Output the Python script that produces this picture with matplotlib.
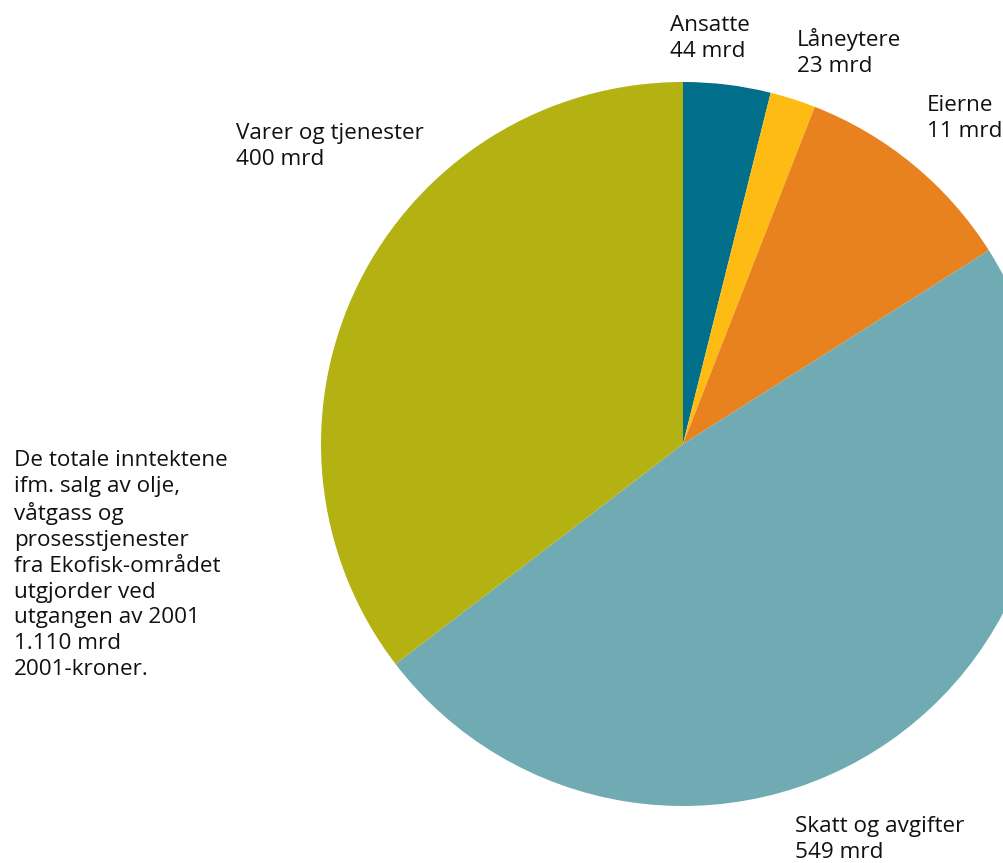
import matplotlib
matplotlib.use('Agg')
import matplotlib.pyplot as plt

plt.rcParams['font.family'] = ['Open Sans', 'DejaVu Sans']

# slices clockwise from 12 o'clock
categories = ["Ansatte", "Låneytere", "Eierne", "Skatt og avgifter", "Varer og tjenester"]
values = [44, 23, 114, 549, 400]
value_labels = ["44 mrd", "23 mrd", "11 mrd", "549 mrd", "400 mrd"]
colors = ["#016e8a", "#fdbb14", "#e8821e", "#70aab2", "#b4b212"]

total_text = ("De totale inntektene\nifm. salg av olje,\nvåtgass og\nprosesstjenester\n"
              "fra Ekofisk-området\nutgjorder ved\nutgangen av 2001\n1.110 mrd\n2001-kroner.")

W, H = 1004, 863
fig = plt.figure(figsize=(W / 100, H / 100), dpi=100)
ax = fig.add_axes([0, 0, 1, 1])

cx, cy, r = 683, H - 444, 362
ax.pie(values, colors=colors, startangle=90, counterclock=False,
       center=(cx, cy), radius=r, wedgeprops=dict(linewidth=0))
ax.set_xlim(0, W)
ax.set_ylim(0, H)
ax.set_aspect('equal')
ax.axis('off')

# label anchors: left edge, baseline of the last line (pixels from top)
label_pos = {
    "Ansatte": (670, 57),
    "Låneytere": (797, 72),
    "Eierne": (927, 137),
    "Skatt og avgifter": (795, 858),
    "Varer og tjenester": (236, 165),
}
fs = 16.2
ls = 1.3
for name, vl in zip(categories, value_labels):
    x, y = label_pos[name]
    ax.text(x, H - y, f"{name}\n{vl}", ha='left', va='baseline',
            fontsize=fs, color='#111111', linespacing=ls, clip_on=False)

ax.text(14, H - 675, total_text, ha='left', va='baseline',
        fontsize=fs, color='#111111', linespacing=ls)

fig.savefig('out.png', dpi=100)
